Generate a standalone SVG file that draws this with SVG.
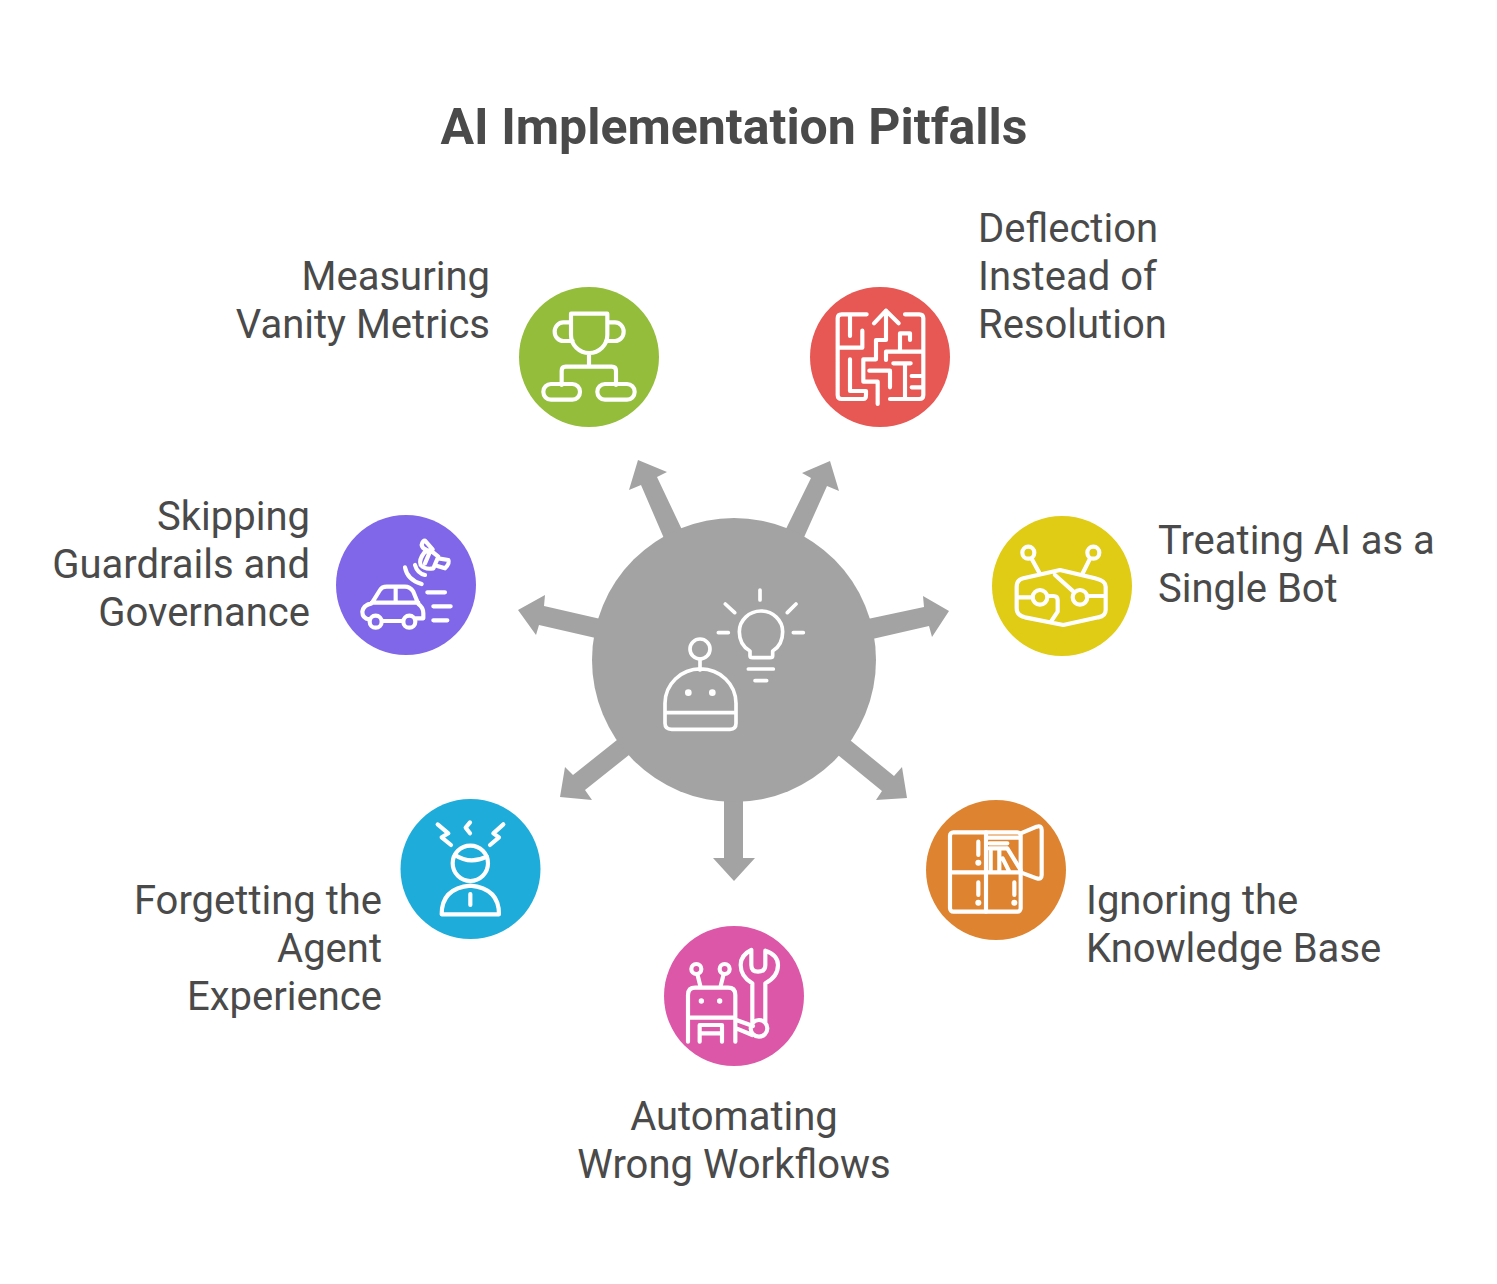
<svg xmlns="http://www.w3.org/2000/svg" width="1497" height="1284" viewBox="0 0 1497 1284">
<style>
text{font-family:Roboto,"Liberation Sans",sans-serif;fill:#4a4a4a;font-size:40px}
.title{font-size:50px;font-weight:700;text-anchor:middle}
.e{text-anchor:end}.m{text-anchor:middle}
.ic{fill:none;stroke:#fff;stroke-width:12.500;stroke-linecap:round;stroke-linejoin:round}
.thin{stroke-width:11}
.dot{fill:#fff;stroke:none}
.arrow{fill:#a3a3a3}
</style>
<rect width="1497" height="1284" fill="#fff"/>
<text class="title" x="734" y="144">AI Implementation Pitfalls</text>
<g id="connectors">
<polygon class="arrow" points="666,543 641,485 629,490 638,460 667,472 657,477 684,534"/>
<polygon class="arrow" points="783,535 811,478 802,473 830,461 839,491 827,486 801,544"/>
<polygon class="arrow" points="863,620 924,607 923,596 949,611 932,637 929,626 868,640"/>
<polygon class="arrow" points="605,620 544,606 545,595 518,610 536,635 539,625 600,639"/>
<polygon class="arrow" points="622,736 573,775 565,767 560,797 592,800 585,790 634,751"/>
<polygon class="arrow" points="845,736 894,776 902,767 907,798 876,800 882,791 833,751"/>
<polygon class="arrow" points="724,795 724,858 713,858 734,881 755,858 743,858 743,795"/>
</g>
<g id="center">
<circle cx="734" cy="660" r="142" fill="#a3a3a3"/>
<g transform="translate(640 580) scale(.33333)">
<path class="ic thin" d="M330 228V213Q298 195 298 155A65 62 0 0 1 428 155Q428 195 398 213V228Q398 233 390 233H338Q330 233 330 228ZM360 30V60M256 72L284 98M468 72L442 98M235 158H265M460 158H490M325 267H400M345 302H380"/>
<circle class="ic thin" cx="180" cy="207" r="30"/>
<path class="ic thin" d="M180 237V270M75 398V370A106 103 0 0 1 288 370V430Q288 448 270 448H95Q75 448 75 430ZM75 398H288"/>
<circle class="dot" cx="145" cy="338" r="10"/><circle class="dot" cx="217" cy="338" r="10"/>
</g>
</g>
<g id="node-measuring">
<circle cx="589" cy="357" r="70" fill="#93bd3a"/>
<g transform="translate(510 280) scale(.33333)">
<path class="ic" d="M183 101H292V165A54.500 54 0 0 1 183 165ZM183 127H160A26 28 0 0 0 160 183H188M292 127H315A26 28 0 0 1 315 183H288M237 220V260M155 315V272Q155 260 167 260H305Q318 260 318 272V315"/>
<rect class="ic" x="100" y="312" width="110" height="47" rx="23"/>
<rect class="ic" x="262" y="312" width="112" height="47" rx="23"/>
</g>
<text class="e" x="490" y="290">Measuring</text>
<text class="e" x="490" y="338">Vanity Metrics</text>
</g>
<g id="node-deflection">
<circle cx="880" cy="357" r="70" fill="#e75753"/>
<g transform="translate(800 280) scale(.33333)">
<path class="ic" d="M200 103H125Q113 103 113 115V345Q113 357 125 357H190Q198 357 198 345V333H150V238M150 105V168M115 203H187V152M222 130L258 92L296 130M258 92V180H228V238H190V305H233V372M208 272H270V322M258 240V215H300V160H330V180M300 215H362M315 103H358Q370 103 370 115V345Q370 357 358 357H270M280 250H332M315 250V355M335 288H368M335 322H368"/>
</g>
<text x="978" y="242">Deflection</text>
<text x="978" y="290">Instead of</text>
<text x="978" y="338">Resolution</text>
</g>
<g id="node-treating">
<circle cx="1062" cy="586" r="70" fill="#e0cb15"/>
<g transform="translate(985 510) scale(.33333)">
<circle class="ic" cx="130" cy="128" r="18"/><circle class="ic" cx="325" cy="128" r="18"/>
<circle class="ic" cx="285" cy="262" r="22"/><circle class="ic" cx="165" cy="262" r="22"/>
<path class="ic" d="M140 146L165 192M315 146L292 192M225 180L330 205Q362 212 362 230V300Q362 318 340 322L235 345L120 322Q95 316 95 295V230Q95 210 115 205ZM210 195L268 247M95 262H143M305 258H362M187 258H205Q218 258 218 270V305L200 332"/>
</g>
<text x="1158" y="554">Treating AI as a</text>
<text x="1158" y="602">Single Bot</text>
</g>
<g id="node-skipping">
<circle cx="406" cy="585" r="70" fill="#8066e8"/>
<g transform="translate(330 510) scale(.33333)">
<circle class="ic" cx="137" cy="335" r="18"/><circle class="ic" cx="238" cy="335" r="18"/>
<path class="ic" d="M218 333H158M118 328Q97 325 97 305Q100 285 125 280L150 240Q156 230 170 230H225Q240 230 250 245L265 282Q280 292 280 310V325H258M125 278H265M197 232V272M292 247H345M310 289H362M310 331H352M225 172Q232 210 275 222M255 165Q262 190 285 195M308 118L285 92Q278 92 275 105Q276 115 290 120M325 145L355 150Q360 160 345 175L322 168M300 120L325 140L310 175Q285 180 272 165Q265 150 285 125ZM300 125L285 160"/>
</g>
<text class="e" x="310" y="530">Skipping</text>
<text class="e" x="310" y="578">Guardrails and</text>
<text class="e" x="310" y="626">Governance</text>
</g>
<g id="node-forgetting">
<circle cx="470.500" cy="869" r="70" fill="#1eacdb"/>
<g transform="translate(395 795) scale(.33333)">
<circle class="ic" cx="226" cy="205" r="53"/>
<path class="ic" d="M128 88L160 115L140 127L168 150M225 82L212 98L225 115M325 88L295 115L312 127L285 150M180 180Q225 210 275 185M140 358Q140 280 226 272Q312 280 312 358ZM226 297V330"/>
</g>
<text class="e" x="382" y="914">Forgetting the</text>
<text class="e" x="382" y="962">Agent</text>
<text class="e" x="382" y="1010">Experience</text>
</g>
<g id="node-ignoring">
<circle cx="996" cy="870" r="70" fill="#de8431"/>
<g transform="translate(920 795) scale(.33333)">
<rect class="ic" x="90" y="112" width="212" height="238" rx="10"/>
<path class="ic" d="M198 112V350M90 232H302M205 128H300M175 140V180M175 262V300M283 262V300M302 115L350 95Q365 90 365 105V240Q365 255 350 250L302 232M212 165V228M238 165V228M207 160H260M248 190L268 230M262 160L302 225M208 145H262"/>
<circle class="dot" cx="175" cy="203" r="9"/><circle class="dot" cx="175" cy="323" r="9"/><circle class="dot" cx="283" cy="323" r="9"/>
</g>
<text x="1086" y="914">Ignoring the</text>
<text x="1086" y="962">Knowledge Base</text>
</g>
<g id="node-automating">
<circle cx="734" cy="996" r="70" fill="#dd57a8"/>
<g transform="translate(658 920) scale(.33333)">
<circle class="ic" cx="115" cy="147" r="15"/><circle class="ic" cx="200" cy="147" r="15"/><circle class="ic" cx="303" cy="325" r="25"/>
<path class="ic" d="M118 162L127 198M197 162L188 198M90 365V225Q90 203 112 203H210Q232 203 232 225V365M90 293H232M125 365V315H192V365M125 340H192M235 300L285 318M235 325L283 345M283 305V190Q248 170 248 135Q248 105 280 90V135Q280 155 300 155Q322 155 322 135V92Q360 105 360 135Q360 170 322 190V305"/>
<circle class="dot" cx="130" cy="243" r="8"/><circle class="dot" cx="185" cy="243" r="8"/>
</g>
<text class="m" x="734" y="1130">Automating</text>
<text class="m" x="734" y="1178">Wrong Workflows</text>
</g>
</svg>
